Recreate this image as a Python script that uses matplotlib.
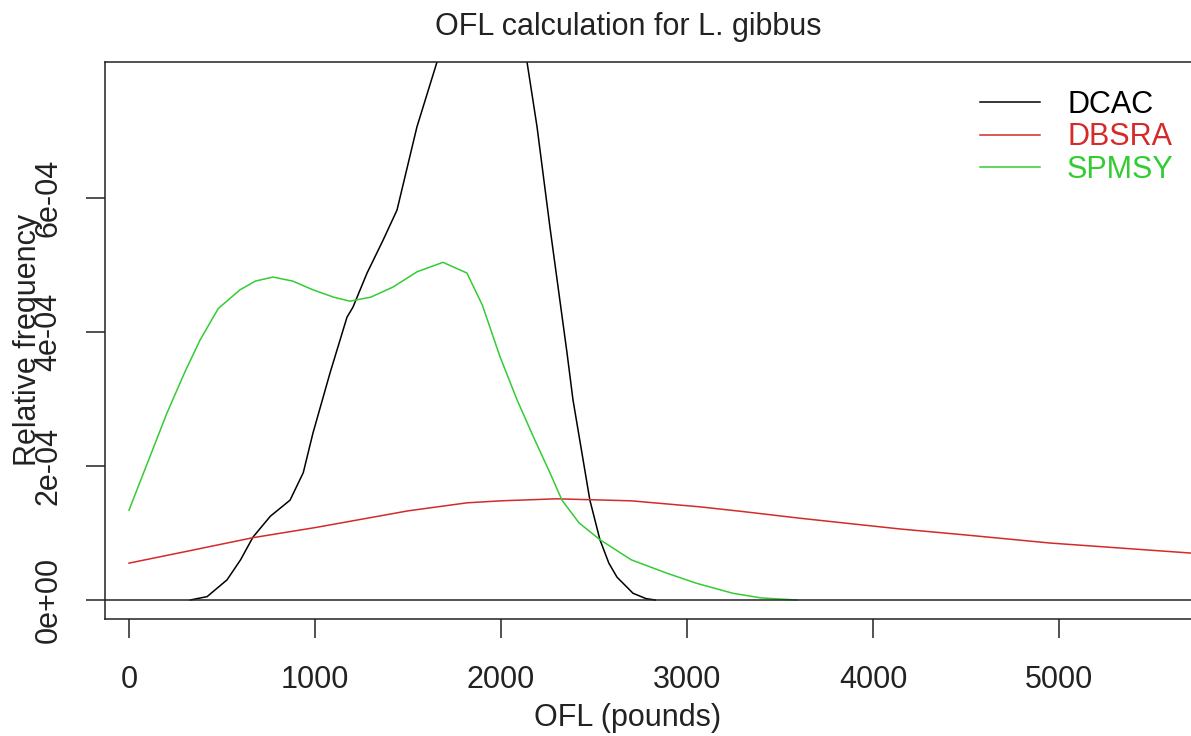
import matplotlib.pyplot as plt

plt.rcParams['font.family'] = ['Liberation Sans', 'DejaVu Sans']

# Density curves (x in pounds, y in units of 1e-4)
dcac_x = [330, 420, 527, 600, 667, 760, 866, 937, 989, 1081, 1172, 1204, 1280,
          1366, 1441, 1548, 1656, 1750, 1900, 2050, 2140, 2194, 2263, 2355,
          2387, 2478, 2532, 2580, 2624, 2710, 2780, 2830]
dcac_y = [0, 0.05, 0.3, 0.6, 0.94, 1.25, 1.49, 1.9, 2.49, 3.39, 4.22, 4.37, 4.88,
          5.37, 5.82, 7.06, 8.03, 9.0, 9.8, 9.2, 8.03, 7.06, 5.57, 3.69,
          2.99, 1.49, 0.9, 0.55, 0.34, 0.1, 0.02, 0]

dbsra_x = [0, 300, 667, 1000, 1280, 1500, 1817, 2000, 2300, 2700, 3070, 3300,
           3608, 4145, 4500, 4952, 5710]
dbsra_y = [0.55, 0.72, 0.93, 1.08, 1.22, 1.33, 1.45, 1.48, 1.51, 1.48, 1.39, 1.32,
           1.22, 1.06, 0.97, 0.85, 0.70]

spmsy_x = [0, 100, 204, 300, 382, 480, 597, 680, 774, 880, 989, 1100, 1188, 1300,
           1419, 1550, 1688, 1817, 1900, 1995, 2086, 2180, 2263, 2328, 2420, 2532,
           2700, 2892, 3050, 3247, 3400, 3591]
spmsy_y = [1.34, 2.05, 2.79, 3.4, 3.88, 4.35, 4.63, 4.76, 4.82, 4.76, 4.63, 4.52,
           4.46, 4.52, 4.67, 4.9, 5.04, 4.88, 4.4, 3.63, 2.99, 2.4, 1.9, 1.49, 1.15,
           0.9, 0.6, 0.4, 0.25, 0.1, 0.03, 0]

series = [('DCAC', dcac_x, dcac_y, 'black'),
          ('DBSRA', dbsra_x, dbsra_y, '#D42A2A'),
          ('SPMSY', spmsy_x, spmsy_y, '#33CC33')]

y_ticks = [0, 2e-4, 4e-4, 6e-4]
y_labels = ['0e+00', '2e-04', '4e-04', '6e-04']
x_ticks = [0, 1000, 2000, 3000, 4000, 5000]

W, H = 1191, 736
fig = plt.figure(figsize=(W / 100, H / 100), dpi=100)
ax = fig.add_axes([105 / W, 1 - 619 / H, (W - 105) / W, (619 - 62) / H])

txt = '#222222'
for name, xs, ys, col in series:
    ax.plot(xs, [v * 1e-4 for v in ys], color=col, lw=1.1, label=name)

ax.axhline(0, color=txt, lw=1.1)

ax.set_xlim(-129, 5710)
ax.set_ylim(-0.284e-4, 8.03e-4)
ax.set_xticks(x_ticks)
ax.set_xticklabels([str(v) for v in x_ticks])
ax.set_yticks(y_ticks)
ax.set_yticklabels(y_labels)
ax.tick_params(axis='both', length=14, width=1.1, colors=txt, labelsize=22,
               direction='out')
ax.tick_params(axis='x', pad=19)
ax.tick_params(axis='y', pad=16)
for lab in ax.get_yticklabels():
    lab.set_rotation(90)
    lab.set_va('center')

for s in ['left', 'top', 'bottom']:
    ax.spines[s].set_color(txt)
    ax.spines[s].set_linewidth(1.1)
ax.spines['right'].set_visible(False)

fig.text(628 / W, 1 - 35 / H, 'OFL calculation for L. gibbus', fontsize=22,
         color=txt, ha='center', va='baseline')
fig.text(628 / W, 1 - 726 / H, 'OFL (pounds)', fontsize=22, color=txt,
         ha='center', va='baseline')
fig.text(13 / W, 1 - 340 / H, 'Relative frequency', fontsize=22, color=txt,
         ha='left', va='center', rotation=90)

leg = ax.legend(loc='upper left', bbox_to_anchor=(980 / W, 1 - 90 / H),
                bbox_transform=fig.transFigure, frameon=False, fontsize=22,
                handlelength=1.97, handletextpad=0.88, labelspacing=0.08,
                borderpad=0, borderaxespad=0)
for t, (_, _, _, col) in zip(leg.get_texts(), series):
    t.set_color(col)

fig.savefig('out.png', dpi=100, facecolor='white')
